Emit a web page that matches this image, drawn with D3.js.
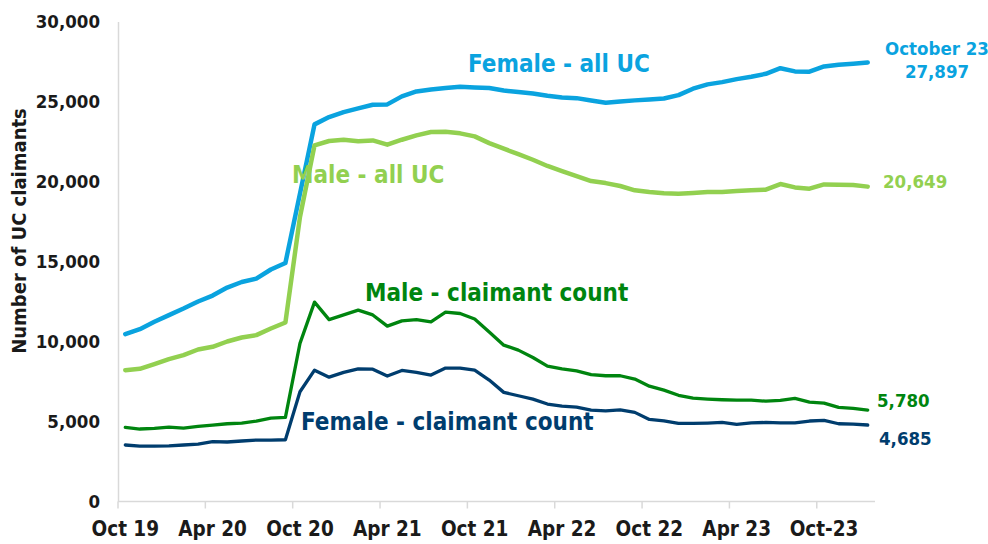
<!DOCTYPE html>
<html>
<head>
<meta charset="utf-8">
<script src="https://cdn.jsdelivr.net/npm/d3@7"></script>
<style>
  body { margin: 0; background: #fff; }
  svg text { font-family: Tahoma, "DejaVu Sans Condensed", "DejaVu Sans", sans-serif; }
</style>
</head>
<body>
<div id="chart"></div>
<script>
// monthly categories, Oct 19 onwards
var months = ["Oct 19","Nov 19","Dec 19","Jan 20","Feb 20","Mar 20","Apr 20","May 20","Jun 20","Jul 20","Aug 20","Sep 20",
    "Oct 20","Nov 20","Dec 20","Jan 21","Feb 21","Mar 21","Apr 21","May 21","Jun 21","Jul 21","Aug 21","Sep 21",
    "Oct 21","Nov 21","Dec 21","Jan 22","Feb 22","Mar 22","Apr 22","May 22","Jun 22","Jul 22","Aug 22","Sep 22",
    "Oct 22","Nov 22","Dec 22","Jan 23","Feb 23","Mar 23","Apr 23","May 23","Jun 23","Jul 23","Aug 23","Sep 23",
    "Oct 23","Nov 23","Dec 23","Jan 24"];

var tickCats = ["Oct 19","Apr 20","Oct 20","Apr 21","Oct 21","Apr 22","Oct 22","Apr 23","Oct 23"];
var tickLabels = ["Oct 19","Apr 20","Oct 20","Apr 21","Oct 21","Apr 22","Oct 22","Apr 23","Oct-23"];
var yTicks = [0, 5000, 10000, 15000, 20000, 25000, 30000];

var femaleAll = [10460,10770,11230,11650,12060,12500,12870,13370,13720,13930,14500,14910,
    19240,23570,24030,24340,24570,24800,24820,25320,25630,25750,25840,25920,
    25880,25840,25690,25590,25500,25360,25250,25210,25060,24920,25000,25070,
    25130,25190,25400,25800,26070,26210,26400,26550,26730,27080,26880,26860,
    27190,27300,27360,27440];

var maleAll = [8210,8290,8590,8900,9150,9500,9670,10000,10250,10400,10810,11190,
    17780,22260,22530,22610,22510,22570,22300,22610,22880,23090,23110,23010,
    22820,22400,22050,21710,21360,20970,20650,20340,20030,19900,19720,19450,
    19340,19260,19240,19280,19340,19340,19400,19450,19490,19840,19630,19550,
    19820,19800,19780,19680];

var maleCC = [4630,4530,4570,4650,4590,4690,4780,4860,4900,5030,5210,5260,
    9880,12460,11370,11660,11960,11660,10960,11290,11370,11230,11830,11750,
    11410,10600,9770,9460,9000,8460,8290,8170,7930,7860,7860,7650,
    7210,6960,6640,6460,6400,6360,6340,6340,6270,6320,6440,6210,
    6150,5880,5820,5710];

var femaleCC = [3530,3460,3460,3480,3530,3590,3740,3720,3780,3840,3840,3860,
    6860,8210,7770,8070,8290,8270,7840,8190,8070,7900,8340,8340,
    8210,7590,6820,6610,6400,6090,5960,5900,5710,5670,5730,5570,
    5130,5040,4880,4880,4900,4940,4820,4920,4940,4920,4920,5030,
    5070,4860,4840,4780];

var series = [
    {name: "Female - all UC", values: femaleAll, color: "#0aa3df", width: 4.5},
    {name: "Male - all UC", values: maleAll, color: "#92d050", width: 4.5},
    {name: "Male - claimant count", values: maleCC, color: "#00850f", width: 3.3},
    {name: "Female - claimant count", values: femaleCC, color: "#003d6e", width: 3.3}
];

var full_width = 988, full_height = 544;
var plot = {left: 118, right: 875, top: 21.5, bottom: 501.5};

var svg = d3.select("#chart")
    .append("svg")
    .attr("width", full_width)
    .attr("height", full_height);

var x = d3.scaleBand()
    .domain(months)
    .range([plot.left, plot.right]);

var y = d3.scaleLinear()
    .domain([0, 30000])
    .range([plot.bottom, plot.top]);

// Y axis
var yAxis = svg.append("g")
    .attr("transform", "translate(" + plot.left + ",0)")
    .call(d3.axisLeft(y).tickValues(yTicks).tickSize(0).tickPadding(18).tickFormat(d3.format(",")));
yAxis.select(".domain").attr("stroke", "#d9d9d9").attr("stroke-width", 1.5);
yAxis.selectAll("text")
    .style("font-size", "18.5px")
    .style("font-weight", "bold")
    .attr("fill", "#1a1a1a");

// X axis, labels at band centres
var xAxis = svg.append("g")
    .attr("transform", "translate(0," + plot.bottom + ")")
    .call(d3.axisBottom(x).tickValues(tickCats).tickSize(0).tickPadding(20)
        .tickFormat(function(d, i) { return tickLabels[i]; }));
xAxis.select(".domain").remove();
xAxis.selectAll("text")
    .style("font-size", "20.5px")
    .style("font-weight", "bold")
    .attr("fill", "#1a1a1a");

svg.append("line")
    .attr("x1", plot.left).attr("x2", plot.right)
    .attr("y1", plot.bottom).attr("y2", plot.bottom)
    .attr("stroke", "#d9d9d9").attr("stroke-width", 1.5);

// tick marks sit between categories
svg.selectAll(".xtick")
    .data(tickCats)
    .enter().append("line")
    .attr("class", "xtick")
    .attr("x1", function(d) { return x(d); })
    .attr("x2", function(d) { return x(d); })
    .attr("y1", plot.bottom)
    .attr("y2", plot.bottom + 7)
    .attr("stroke", "#d9d9d9").attr("stroke-width", 1.5);

// Y axis title
svg.append("text")
    .attr("transform", "rotate(-90)")
    .attr("x", -231)
    .attr("y", 26)
    .attr("text-anchor", "middle")
    .style("font-size", "20px")
    .style("font-weight", "bold")
    .attr("fill", "#1a1a1a")
    .text("Number of UC claimants");

// Lines
var line = d3.line()
    .x(function(d, i) { return x(months[i]) + x.bandwidth() / 2; })
    .y(function(d) { return y(d); });

svg.selectAll(".series")
    .data(series)
    .enter().append("path")
    .attr("class", "series")
    .attr("d", function(s) { return line(s.values); })
    .attr("fill", "none")
    .attr("stroke", function(s) { return s.color; })
    .attr("stroke-width", function(s) { return s.width; })
    .attr("stroke-linejoin", "round")
    .attr("stroke-linecap", "round");

// Series labels
var labels = [
    {text: "Female - all UC", x: 468, y: 72, color: "#0aa3df"},
    {text: "Male - all UC", x: 292, y: 183, color: "#92d050"},
    {text: "Male - claimant count", x: 365, y: 301, color: "#00850f"},
    {text: "Female - claimant count", x: 301, y: 430, color: "#003d6e"}
];
svg.selectAll(".slabel")
    .data(labels)
    .enter().append("text")
    .attr("class", "slabel")
    .attr("x", function(d) { return d.x; })
    .attr("y", function(d) { return d.y; })
    .attr("fill", function(d) { return d.color; })
    .style("font-size", "24px")
    .style("font-weight", "bold")
    .text(function(d) { return d.text; });

// End values
var endLabels = [
    {text: "October 23", x: 937, y: 55, color: "#0aa3df", anchor: "middle"},
    {text: "27,897", x: 937, y: 78, color: "#0aa3df", anchor: "middle"},
    {text: "20,649", x: 883, y: 188, color: "#92d050", anchor: "start"},
    {text: "5,780", x: 877, y: 407, color: "#00850f", anchor: "start"},
    {text: "4,685", x: 879, y: 445, color: "#003d6e", anchor: "start"}
];
svg.selectAll(".elabel")
    .data(endLabels)
    .enter().append("text")
    .attr("class", "elabel")
    .attr("x", function(d) { return d.x; })
    .attr("y", function(d) { return d.y; })
    .attr("text-anchor", function(d) { return d.anchor; })
    .attr("fill", function(d) { return d.color; })
    .style("font-size", "18.5px")
    .style("font-weight", "bold")
    .text(function(d) { return d.text; });
</script>
</body>
</html>
